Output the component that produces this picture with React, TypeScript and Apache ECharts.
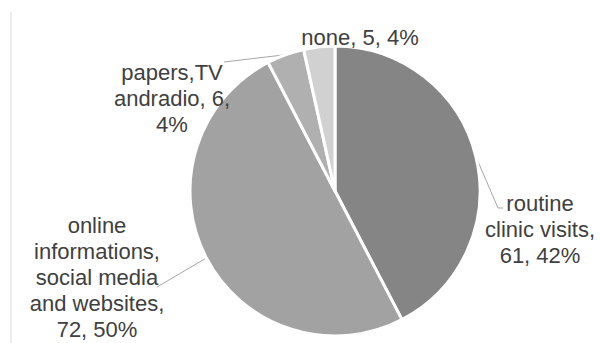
import React, { useEffect, useRef } from "react";
import * as echarts from "echarts";

const categories = [
  "routine\nclinic visits",
  "online\ninformations,\nsocial media\nand websites",
  "papers,TV\nandradio",
  "none",
];
const values = [61, 72, 6, 5];
const percentLabels = ["42%", "50%", "4%", "4%"];
const sepAfterName = [",\n", ",\n", ", ", ", "];
const sepAfterValue = [", ", ", ", ",\n", ", "];
const colors = ["#858585", "#a2a2a2", "#b0b0b0", "#d1d1d1"];

// label centers (manually placed labels, as in the original)
const labelCenters: [number, number][] = [
  [540, 229],
  [97, 277],
  [172, 98],
  [360, 37],
];
// leader line end offsets relative to label center
const leaderEnds: ([number, number][] | null)[] = [
  [[-42, -21], [-37, -21]],
  [[60, 10], [60, 10]],
  [[52, -36], [52, -36]],
  null,
];

export default function App() {
  const ref = useRef<HTMLDivElement>(null);
  useEffect(() => {
    if (!ref.current) return;
    const chart = echarts.init(ref.current, null, { renderer: "svg" });
    const data = values.map((v, i) => ({
      name: categories[i],
      value: v,
      itemStyle: { color: colors[i] },
      labelLine: { show: leaderEnds[i] !== null },
    }));
    chart.setOption({
      animation: false,
      backgroundColor: "#ffffff",
      graphic: [
        {
          type: "line",
          shape: { x1: 11, y1: 12, x2: 11, y2: 343 },
          style: { stroke: "#d9d9d9", lineWidth: 1 },
        },
      ],
      series: [
        {
          type: "pie",
          center: [335, 191],
          radius: 145,
          startAngle: 90,
          clockwise: true,
          avoidLabelOverlap: false,
          itemStyle: { borderColor: "#ffffff", borderWidth: 3 },
          emphasis: { disabled: true },
          label: {
            show: true,
            position: "outside",
            fontFamily: "Liberation Sans, Arial, sans-serif",
            fontSize: 22,
            lineHeight: 26,
            color: "#404040",
            align: "center",
            formatter: (p: any) =>
              p.name +
              sepAfterName[p.dataIndex] +
              values[p.dataIndex] +
              sepAfterValue[p.dataIndex] +
              percentLabels[p.dataIndex],
          },
          labelLine: {
            show: true,
            lineStyle: { color: "#a6a6a6", width: 1 },
          },
          labelLayout: (params: any) => {
            const i = params.dataIndex;
            const [cx, cy] = labelCenters[i];
            const res: any = {
              x: cx,
              y: cy,
              align: "center",
              verticalAlign: "middle",
            };
            const ends = leaderEnds[i];
            if (ends && params.labelLinePoints) {
              const start = params.labelLinePoints[0];
              res.labelLinePoints = [
                start,
                [cx + ends[0][0], cy + ends[0][1]],
                [cx + ends[1][0], cy + ends[1][1]],
              ];
            }
            return res;
          },
          data,
        },
      ],
    });
    return () => chart.dispose();
  }, []);
  return (
    <div
      ref={ref}
      style={{ position: "fixed", left: 0, top: 0, width: 600, height: 343 }}
    />
  );
}
